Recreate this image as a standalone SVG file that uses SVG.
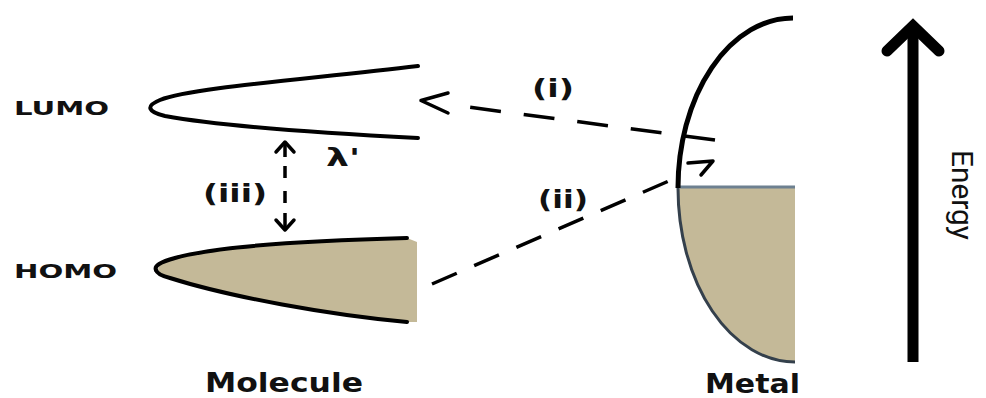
<svg xmlns="http://www.w3.org/2000/svg" width="986" height="398" viewBox="0 0 986 398">
<style>
.lbl{font-family:"DejaVu Sans","Liberation Sans",sans-serif;font-weight:bold;fill:#111}
.curve{fill:none;stroke:#000;stroke-width:4;stroke-linecap:round}
.tan{fill:#c4b998}
.dash{fill:none;stroke:#000;stroke-width:3.5}
.head{fill:none;stroke:#000;stroke-width:3.5;stroke-linecap:round;stroke-linejoin:round}
</style>
<rect width="986" height="398" fill="#fff"/>
<g id="lumo">
<path class="curve" d="M418,66 C300,80 190,88 160,100 C145,106 148,112 165,116 C220,126 320,133 418,138"/>
<text class="lbl" x="14" y="115" font-size="20" textLength="95" lengthAdjust="spacingAndGlyphs">LUMO</text>
</g>
<g id="homo">
<path class="tan" d="M407,238 C330,240 220,245 175,258 C155,264 152,272 170,278 C230,297 330,315 407,322 L417,322 L417,242 Z"/>
<path class="curve" stroke-width="5.5" d="M407,238 C330,240 220,245 175,258 C160,262 154,266 156,270"/>
<path class="curve" stroke-width="4" d="M156,270 C157,274 162,276 170,278 C230,297 330,315 407,322"/>
<text class="lbl" x="14" y="278" font-size="20" textLength="103" lengthAdjust="spacingAndGlyphs">HOMO</text>
</g>
<g id="metal">
<path class="tan" d="M678,188 A117,174 0 0 0 795,362 L795,187 L678,187 Z"/>
<path d="M678,188 A117,174 0 0 0 795,362" fill="none" stroke="#34404c" stroke-width="3"/>
<path d="M679,187 L795,187" fill="none" stroke="#6d8090" stroke-width="3"/>
<path d="M793,18 A115,170 0 0 0 678,188" fill="none" stroke="#000" stroke-width="5"/>
</g>
<g id="energy-axis">
<line x1="913" y1="362" x2="913" y2="30" stroke="#000" stroke-width="11"/>
<polyline points="887,51 913,26 939,51" fill="none" stroke="#000" stroke-width="11" stroke-linecap="round" stroke-linejoin="miter"/>
<text x="952" y="150" transform="rotate(90 952 150)" font-family="Roboto,'Liberation Sans',sans-serif" font-size="30" textLength="90" lengthAdjust="spacingAndGlyphs" fill="#111">Energy</text>
</g>
<g id="connectors">
<path class="dash" d="M715,140 L468,107" stroke-dasharray="31 23"/>
<polyline class="head" stroke-width="4" points="448,93 421,100.5 448,113"/>
<path class="dash" d="M432,284 L678,177" stroke-dasharray="27 19"/>
<polyline class="head" points="688,163 713,161 701,175"/>
<path class="dash" stroke-width="4" d="M285,143 V157 M285,166 V178 M285,191 V203 M285,213 V229"/>
<polyline class="head" points="276,152 285,142 294,152"/>
<polyline class="head" points="276,220 285,230 294,220"/>
</g>
<g id="labels">
<text class="lbl" x="532" y="97" font-size="25" textLength="42" lengthAdjust="spacingAndGlyphs">(i)</text>
<text class="lbl" x="538" y="208" font-size="25" textLength="50" lengthAdjust="spacingAndGlyphs">(ii)</text>
<text class="lbl" x="203" y="202" font-size="25" textLength="64" lengthAdjust="spacingAndGlyphs">(iii)</text>
<text class="lbl" x="326" y="166" font-size="25" textLength="34" lengthAdjust="spacingAndGlyphs">λ'</text>
<text class="lbl" x="205" y="392" font-size="27" textLength="158" lengthAdjust="spacingAndGlyphs">Molecule</text>
<text class="lbl" x="705" y="393" font-size="27" textLength="95" lengthAdjust="spacingAndGlyphs">Metal</text>
</g>
</svg>
